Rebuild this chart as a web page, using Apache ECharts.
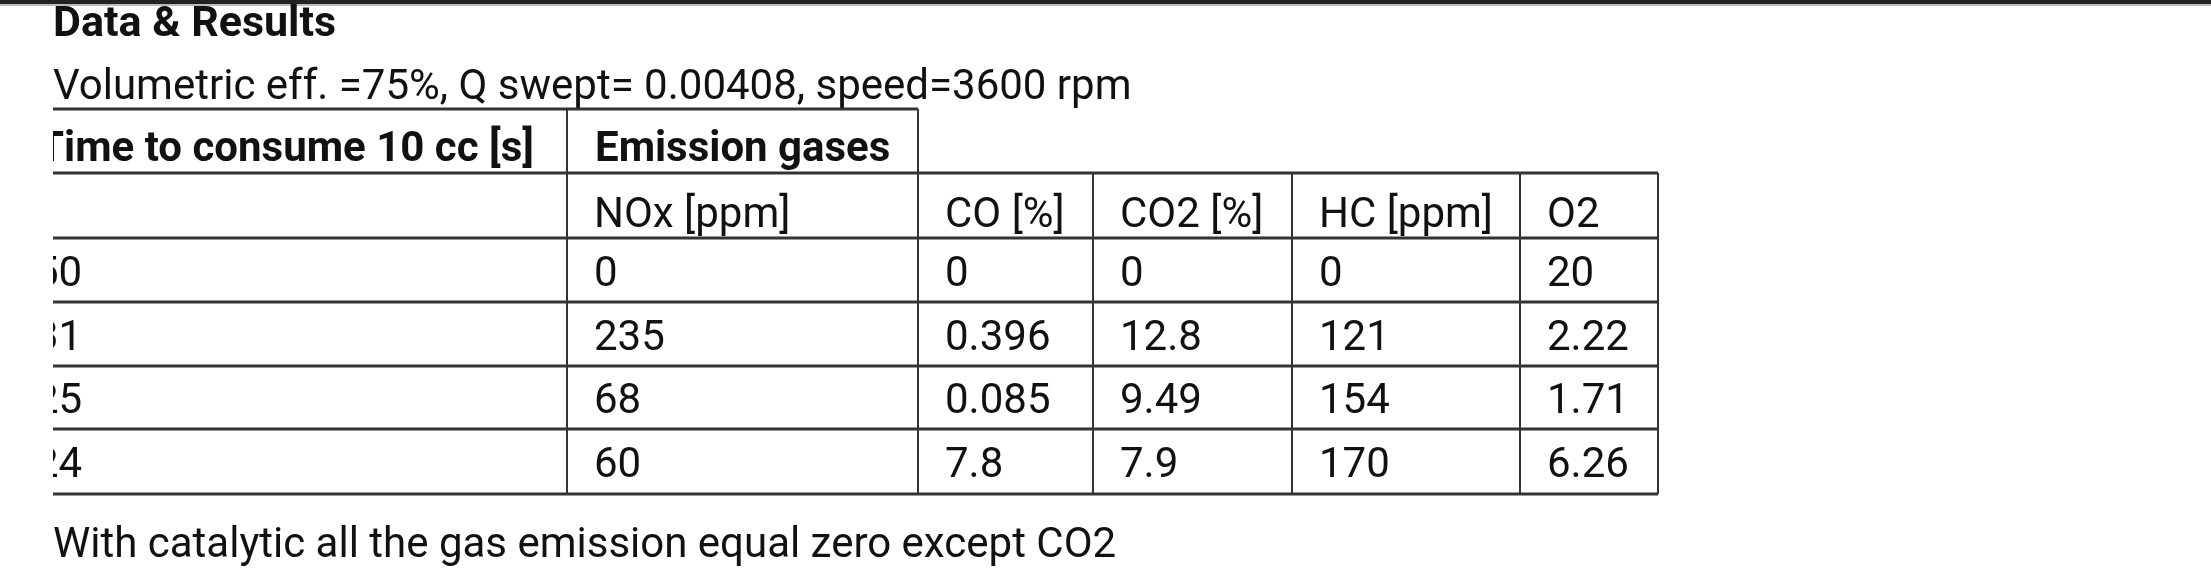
<!DOCTYPE html>
<html><head><meta charset="utf-8">
<script src="https://cdn.jsdelivr.net/npm/echarts@6/dist/echarts.min.js"></script>
<style>html,body{margin:0;padding:0;background:#fff}#c{width:2211px;height:581px}</style>
</head><body><div id="c"></div>
<script>
const title = 'Data & Results';
const subtitle = 'Volumetric eff. =75%, Q swept= 0.00408, speed=3600 rpm';
const footnote = 'With catalytic all the gas emission equal zero except CO2';
const groupHeaders = ['Time to consume 10 cc [s]', 'Emission gases'];
const columns = ['', 'NOx [ppm]', 'CO [%]', 'CO2 [%]', 'HC [ppm]', 'O2'];
const timeValues = ['50', '31', '25', '24'];
const noxValues = ['0', '235', '68', '60'];
const coValues = ['0', '0.396', '0.085', '7.8'];
const co2Values = ['0', '12.8', '9.49', '7.9'];
const hcValues = ['0', '121', '154', '170'];
const o2Values = ['20', '2.22', '1.71', '6.26'];

const colX = [53, 567, 918, 1093, 1292, 1520, 1658];
const rowY = [109, 173, 238, 302, 366, 429, 494];
const font = 'Roboto, "Noto Sans", sans-serif';
const g = [];
const txt = (x, y, s, size, bold) => g.push({type:'text', x, y, style:{text:s, fill:'#111', font:(bold?'bold ':'')+size+'px '+font, textVerticalAlign:'middle'}});
const line = (x1,y1,x2,y2,w,c) => g.push({type:'line', shape:{x1,y1,x2,y2}, style:{stroke:c||'#333', lineWidth:w}});

g.push({type:'rect', shape:{x:0,y:0,width:2211,height:4}, style:{fill:'#222'}});
g.push({type:'rect', shape:{x:0,y:4,width:2211,height:2}, style:{fill:'#bbb'}});
txt(53, 25, title, 43, true);
txt(53, 88, subtitle, 42, false);
txt(38, 150, groupHeaders[0], 42, true);
txt(595, 150, groupHeaders[1], 42, true);
const cols = [timeValues, noxValues, coValues, co2Values, hcValues, o2Values];
columns.forEach((c,i)=>{ if(c) txt(colX[i]+27, 216, c, 42, false); });
for (let r=0;r<4;r++) cols.forEach((arr,i)=>txt(colX[i]+(i===0?-18:27), (rowY[r+2]+rowY[r+3])/2+5, arr[r], 42, false));
txt(53, 546, footnote, 42, false);
g.push({type:'rect', shape:{x:0,y:100,width:53,height:400}, style:{fill:'#fff'}, z:10});
line(53, rowY[0], 918, rowY[0], 3);
for (let r=1;r<rowY.length;r++) line(53, rowY[r], 1658, rowY[r], 3);
line(567, rowY[0], 567, rowY[6], 2);
line(918, rowY[0], 918, rowY[6], 2);
for (let i=3;i<colX.length;i++) line(colX[i], rowY[1], colX[i], rowY[6], 2);
const chart = echarts.init(document.getElementById('c'));
chart.setOption({backgroundColor:'#fff', graphic:{elements:g}});
</script></body></html>
